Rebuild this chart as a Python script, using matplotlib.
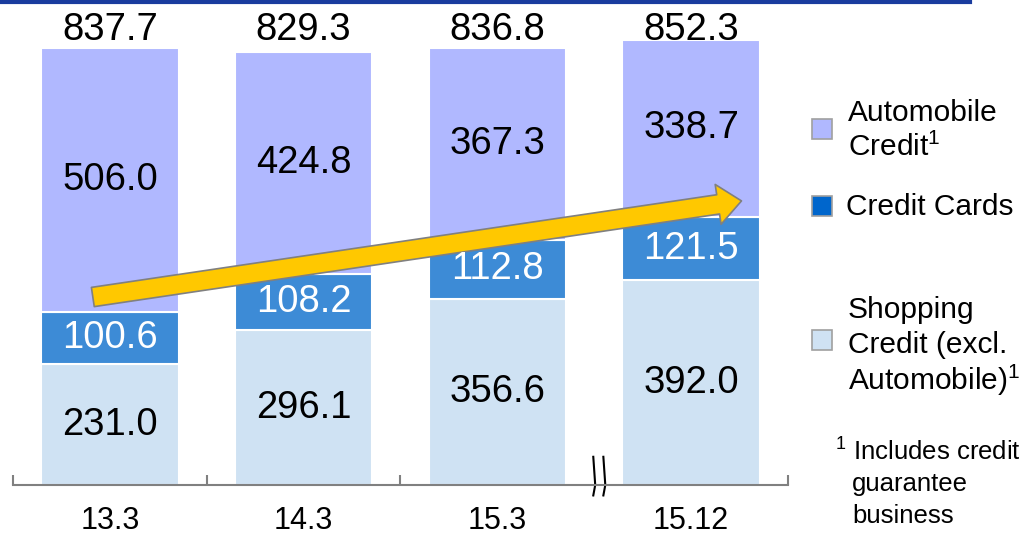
import matplotlib.pyplot as plt
from matplotlib.patches import FancyArrowPatch, Rectangle
from matplotlib.lines import Line2D

plt.rcParams['font.family'] = ['Liberation Sans', 'DejaVu Sans']
plt.rcParams['mathtext.fontset'] = 'custom'
plt.rcParams['mathtext.rm'] = 'Liberation Sans'
plt.rcParams['mathtext.default'] = 'rm'

periods = ['13.3', '14.3', '15.3', '15.12']
shopping = [231.0, 296.1, 356.6, 392.0]
cards = [100.6, 108.2, 112.8, 121.5]
auto = [506.0, 424.8, 367.3, 338.7]
totals = [837.7, 829.3, 836.8, 852.3]

c_shop = '#cfe2f3'
c_card = '#3d8bd6'
c_card_legend = '#0066cc'
c_auto = '#b0b8ff'

fig = plt.figure(figsize=(10.28, 5.36), dpi=100)
ax = fig.add_axes([13 / 1028, 51 / 536, 775 / 1028, 470 / 536])

x = list(range(len(periods)))
w = 0.71
b2 = [s + c for s, c in zip(shopping, cards)]
ax.bar(x, shopping, w, color=c_shop, edgecolor='white', linewidth=1.5)
ax.bar(x, cards, w, bottom=shopping, color=c_card, edgecolor='white', linewidth=1.5)
ax.bar(x, auto, w, bottom=b2, color=c_auto, edgecolor='white', linewidth=1.5)

fsv = 27.5
for i in x:
    ax.text(i, shopping[i] / 2, f'{shopping[i]:.1f}', ha='center', va='center', fontsize=fsv, color='black')
    ax.text(i, shopping[i] + cards[i] / 2, f'{cards[i]:.1f}', ha='center', va='center', fontsize=fsv, color='white', zorder=5)
    ax.text(i, b2[i] + auto[i] / 2, f'{auto[i]:.1f}', ha='center', va='center', fontsize=fsv, color='black')
    ax.text(i, 872, f'{totals[i]:.1f}', ha='center', va='center', fontsize=fsv, color='black')

# growth arrow
arr = FancyArrowPatch((-0.088, 360), (3.26, 544),
                      arrowstyle='simple,head_length=17,head_width=29,tail_width=14',
                      mutation_scale=1, shrinkA=0, shrinkB=0,
                      facecolor='#ffc800', edgecolor='#808080', linewidth=1.2, zorder=4)
ax.add_patch(arr)

ax.set_xlim(-0.5, 3.5)
ax.set_ylim(0, 900)
for s in ['top', 'left', 'right']:
    ax.spines[s].set_visible(False)
ax.spines['bottom'].set_color('#808080')
ax.spines['bottom'].set_linewidth(1.5)
ax.set_yticks([])
ax.set_xticks(x)
ax.set_xticklabels(periods, fontsize=22)
ax.tick_params(axis='x', which='major', length=0, pad=15)
ax.set_xticks([-0.5, 0.5, 1.5, 3.5], minor=True)
ax.tick_params(axis='x', which='minor', direction='in', length=7, width=1.5, color='#808080')

# axis break
for dx in [0.0, 0.052]:
    ax.add_line(Line2D([2.495 + dx, 2.505 + dx, 2.495 + dx], [54, 0, -20], color='black', lw=1.5, clip_on=False))

# top rule
fig.add_artist(Line2D([0, 970 / 1028], [1 - 1.5 / 536, 1 - 1.5 / 536], color='#1a3c9e', lw=3))

# legend
def swatch(y0, color):
    fig.add_artist(Rectangle((812 / 1028, (536 - y0 - 20) / 536), 20 / 1028, 20 / 536,
                             facecolor=color, edgecolor='#a0a0a0', linewidth=1.2))

swatch(119, c_auto)
swatch(196, c_card_legend)
swatch(330, c_shop)
fs = 21.5
fig.text(848 / 1028, 1 - 113 / 536, 'Automobile', fontsize=fs, va='center')
fig.text(848 / 1028, 1 - 147 / 536, 'Credit$^1$', fontsize=fs, va='center')
fig.text(846 / 1028, 1 - 207 / 536, 'Credit Cards', fontsize=fs, va='center')
fig.text(848 / 1028, 1 - 310 / 536, 'Shopping', fontsize=fs, va='center')
fig.text(848 / 1028, 1 - 345 / 536, 'Credit (excl.', fontsize=fs, va='center')
fig.text(848 / 1028, 1 - 380 / 536, 'Automobile)$^1$', fontsize=fs, va='center')
fig.text(835 / 1028, 1 - 452 / 536, '$^1$ Includes credit', fontsize=18.5, va='center')
fig.text(852 / 1028, 1 - 484 / 536, 'guarantee', fontsize=18.5, va='center')
fig.text(852 / 1028, 1 - 516 / 536, 'business', fontsize=18.5, va='center')

fig.savefig('out.png', dpi=100)
